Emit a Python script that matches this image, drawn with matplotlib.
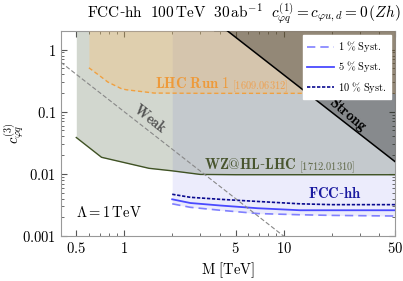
import matplotlib
matplotlib.use("Agg")
import matplotlib.pyplot as plt
import numpy as np

plt.rcParams['mathtext.fontset'] = 'cm'
plt.rcParams['font.family'] = 'serif'
plt.rcParams['font.serif'] = ['DejaVu Serif']

# datos
m_wz = [0.5, 0.72, 1.43, 2.0, 3.0, 5.0, 10.0, 50.0]
c_wz = [0.0385, 0.0185, 0.0123, 0.0112, 0.0098, 0.0097, 0.0097, 0.0097]

m_lhc = [0.6, 0.71, 0.79, 0.96, 1.03, 1.54, 3.0, 50.0]
c_lhc = [0.51, 0.37, 0.30, 0.235, 0.226, 0.20, 0.198, 0.198]

m_fcc = [2.0, 2.6, 4.0, 6.9, 12.7, 20.0, 50.0]
c_fcc_1 = [0.0033, 0.0029, 0.0026, 0.0023, 0.0022, 0.00215, 0.0021]
c_fcc_5 = [0.0039, 0.0034, 0.0031, 0.0028, 0.0026, 0.0026, 0.0026]
c_fcc_10 = [0.0047, 0.0042, 0.0039, 0.0036, 0.0033, 0.0032, 0.0032]

m_lim = [0.4, 50.0]
c_top = 2.0
k_weak = 0.1     # c = k/M^2
k_strong = 39.5  # c = k/M^2

fig = plt.figure(figsize=(4.03, 2.81), dpi=100)
ax = fig.add_axes([0.151, 0.16, 0.829, 0.73])

# regiones
ax.fill_between(m_fcc, c_fcc_1, c_top, color=(70/255, 70/255, 230/255), alpha=0.1, lw=0, zorder=1)
ax.fill_between(m_wz, c_wz, c_top, color=(90/255, 110/255, 80/255), alpha=0.27, lw=0, zorder=2)
ax.fill_between(m_lhc, c_lhc, c_top, color=(1.0, 190/255, 100/255), alpha=0.3, lw=0, zorder=3)

ms = np.logspace(np.log10(m_lim[0]), np.log10(m_lim[1]), 200)
c_strong = k_strong / ms**2
ax.fill_between(ms, c_strong, c_top, where=c_strong < c_top * 1.5, color='black', alpha=0.31, lw=0, zorder=4)
ax.plot(ms, c_strong, color='black', lw=1.1, zorder=6)
ax.plot(ms, k_weak / ms**2, color='#888888', lw=0.8, ls=(0, (4, 2)), zorder=6)

ax.plot(m_wz, c_wz, color='#3f5224', lw=1.0, zorder=5)
ax.plot(m_lhc, c_lhc, color='#f0a040', lw=1.0, ls=(0, (3, 2)), zorder=5)

ax.plot(m_fcc, c_fcc_1, color='#8080ff', lw=1.2, ls=(0, (5, 3)), zorder=5, label=r'$\mathrm{1\ \%\ Syst.}$')
ax.plot(m_fcc, c_fcc_5, color='#4a4aff', lw=1.3, zorder=5, label=r'$\mathrm{5\ \%\ Syst.}$')
ax.plot(m_fcc, c_fcc_10, color='#0a0a90', lw=1.2, ls=(0, (2, 1)), zorder=5, label=r'$\mathrm{10\ \%\ Syst.}$')

ax.set_xscale('log')
ax.set_yscale('log')
ax.set_xlim(m_lim)
ax.set_ylim(0.001, c_top)

ax.set_xticks([0.5, 1, 5, 10, 50])
ax.set_xticklabels([r'$\mathrm{0.5}$', r'$\mathrm{1}$', r'$\mathrm{5}$', r'$\mathrm{10}$', r'$\mathrm{50}$'])
ax.set_yticks([0.001, 0.01, 0.1, 1])
ax.set_yticklabels([r'$\mathrm{0.001}$', r'$\mathrm{0.01}$', r'$\mathrm{0.1}$', r'$\mathrm{1}$'])
ax.tick_params(which='both', direction='in', top=True, right=True, labelsize=10.5, color='#555555')
ax.tick_params(which='major', length=4, width=0.8)
ax.tick_params(which='minor', length=2.5, width=0.6)
for s in ax.spines.values():
    s.set_color('#999999')
    s.set_linewidth(0.8)

ax.set_xlabel(r'$\mathrm{M\ [TeV]}$', fontsize=10.5, labelpad=3)
ax.set_ylabel(r'$c_{\varphi q}^{(3)}$', fontsize=10.5)
ax.yaxis.set_label_coords(-0.105, 0.5)

# textos
t1 = ax.text(1.56, 0.283, r'$\mathbf{LHC\ Run\ 1}$', color='#ee9a3a', fontsize=10.5, va='center', ha='left', zorder=7)
ax.annotate(r'$\mathrm{[1609.06312]}$', xy=(1, 0.35), xycoords=t1, xytext=(2, 0), textcoords='offset points',
            color='#eea050', fontsize=7.5, va='center', ha='left', zorder=7)
t2 = ax.text(3.16, 0.014, r'$\mathbf{WZ@HL}$-$\mathbf{LHC}$', color='#48552e', fontsize=10.5, va='center', ha='left', zorder=7)
ax.annotate(r'$\mathrm{[1712.01310]}$', xy=(1, 0.35), xycoords=t2, xytext=(2, 0), textcoords='offset points',
            color='#5f6848', fontsize=7.5, va='center', ha='left', zorder=7)
ax.text(14.3, 0.0049, r'$\mathbf{FCC}$-$\mathbf{hh}$', color='#1a1aa0', fontsize=10.5, va='center', ha='left', zorder=7)
ax.text(1.45, 0.078, r'$\mathbf{Weak}$', color='#555555', fontsize=10.5, rotation=-38, rotation_mode='anchor',
        va='center', ha='center', zorder=7)
ax.text(25.2, 0.091, r'$\mathbf{Strong}$', color='black', fontsize=10.5, rotation=-40, rotation_mode='anchor',
        va='center', ha='center', zorder=7)
ax.text(0.5, 0.0024, r'$\Lambda = 1\,\mathrm{TeV}$', color='black', fontsize=10.5, va='center', ha='left', zorder=7)

fig.text(0.993, 0.95, r'$\mathrm{FCC}$-$\mathrm{hh}\ \ 100\,\mathrm{TeV}\ \ 30\,\mathrm{ab}^{-1}\ \ c_{\varphi q}^{(1)} = c_{\varphi u,d} = 0\,(Zh)$',
         fontsize=11, ha='right', va='center')

leg = ax.legend(loc='upper right', fontsize=7.5, frameon=True, fancybox=False, handlelength=2.6,
                borderaxespad=0.4, labelspacing=0.5, handletextpad=0.4)
leg.get_frame().set_edgecolor('white')
leg.get_frame().set_alpha(1.0)
leg.set_zorder(10)

fig.savefig('out.png', dpi=100)
